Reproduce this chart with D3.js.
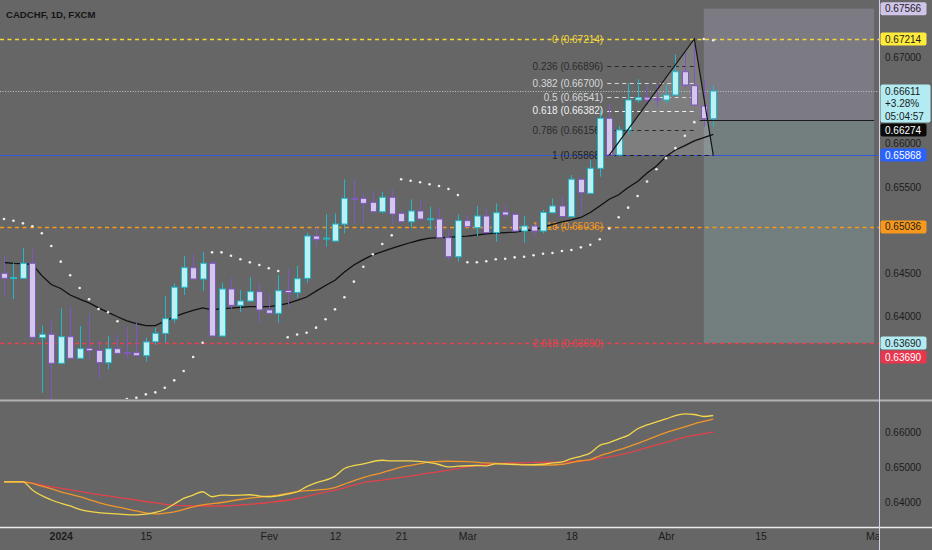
<!DOCTYPE html>
<html>
<head>
<meta charset="utf-8">
<script src="https://cdn.jsdelivr.net/npm/d3@7"></script>
<style>
  body { margin: 0; background: #666; }
  svg { display: block; font-family: "Liberation Sans", Arial, sans-serif; }
</style>
</head>
<body>
<svg id="chart" width="932" height="550"></svg>
<script>
// daily bars, index 0 = first visible bar (late Dec 2023), 75 = Apr 8
const opens = [0.64498,0.64445,0.64440,0.64614,0.63752,0.63791,0.63455,0.63763,0.63513,0.63628,
  0.63605,0.63462,0.63624,0.63579,0.63577,0.63543,0.63705,0.63802,0.63968,0.64336,
  0.64563,0.64432,0.64614,0.63771,0.64316,0.64127,0.64177,0.64285,0.64073,0.64034,
  0.64299,0.64275,0.64440,0.64930,0.64900,0.64872,0.65069,0.65367,0.65367,0.65321,
  0.65212,0.65379,0.65193,0.65096,0.65220,0.65125,0.65127,0.64911,0.64690,0.65108,
  0.65027,0.65162,0.64969,0.65209,0.65182,0.64988,0.65046,0.64988,0.65200,0.65278,
  0.65154,0.65588,0.65425,0.65715,0.66295,0.65869,0.66159,0.66507,0.66533,0.66518,
  0.66507,0.66565,0.66835,0.66673,0.66437,0.66290];
const highs = [0.64699,0.64614,0.64795,0.64788,0.63891,0.63945,0.64092,0.64119,0.63887,0.64034,
  0.63725,0.63771,0.63791,0.63878,0.63925,0.63752,0.63869,0.64238,0.64382,0.64702,
  0.64722,0.64748,0.64641,0.64389,0.64440,0.64304,0.64452,0.64389,0.64266,0.64478,
  0.64548,0.64583,0.64969,0.65031,0.65185,0.65193,0.65588,0.65588,0.65425,0.65455,
  0.65444,0.65464,0.65232,0.65356,0.65356,0.65270,0.65251,0.65000,0.65182,0.65174,
  0.65278,0.65251,0.65309,0.65290,0.65193,0.65162,0.65069,0.65232,0.65367,0.65386,
  0.65638,0.65599,0.65811,0.66391,0.66461,0.66206,0.66700,0.66747,0.66681,0.66681,
  0.66681,0.67037,0.67057,0.67214,0.66747,0.66681];
const lows = [0.64227,0.64200,0.64435,0.63705,0.63114,0.63041,0.63450,0.63501,0.63510,0.63501,
  0.63269,0.63385,0.63565,0.63513,0.63540,0.63473,0.63667,0.63693,0.63925,0.64246,
  0.64428,0.64296,0.63765,0.63765,0.64088,0.64049,0.64172,0.63925,0.64030,0.63925,
  0.64113,0.64212,0.64389,0.64806,0.64806,0.64867,0.64962,0.65069,0.65069,0.65207,
  0.65193,0.65058,0.65090,0.65020,0.65122,0.65000,0.64905,0.64652,0.64633,0.65033,
  0.64930,0.64962,0.64864,0.65136,0.64983,0.64853,0.64915,0.64962,0.65195,0.65150,
  0.65150,0.65174,0.65420,0.65618,0.65865,0.65865,0.66101,0.66476,0.66449,0.66429,
  0.66469,0.66560,0.66654,0.66440,0.66197,0.66197];
const closes = [0.64440,0.64449,0.64614,0.63756,0.63791,0.63455,0.63763,0.63513,0.63624,0.63601,
  0.63462,0.63624,0.63570,0.63576,0.63543,0.63702,0.63802,0.63972,0.64336,0.64563,
  0.64432,0.64614,0.63771,0.64316,0.64127,0.64177,0.64285,0.64073,0.64034,0.64296,
  0.64275,0.64435,0.64930,0.64892,0.64907,0.65069,0.65367,0.65361,0.65309,0.65212,
  0.65379,0.65185,0.65096,0.65220,0.65127,0.65130,0.64911,0.64690,0.65108,0.65038,
  0.65162,0.64969,0.65200,0.65174,0.64988,0.65046,0.64988,0.65203,0.65278,0.65156,
  0.65588,0.65432,0.65715,0.66295,0.65869,0.66159,0.66507,0.66533,0.66507,0.66513,
  0.66565,0.66835,0.66681,0.66449,0.66290,0.66611];

// moving average drawn on the price pane
const priceMA = [0.64623,0.64614,0.64609,0.64602,0.64471,0.64368,0.64322,0.64246,0.64198,0.64155,
  0.64098,0.64045,0.63994,0.63947,0.63916,0.63891,0.63891,0.63942,0.63993,0.64033,
  0.64069,0.64096,0.64075,0.64089,0.64095,0.64104,0.64111,0.64111,0.64111,0.64127,
  0.64150,0.64183,0.64223,0.64291,0.64357,0.64418,0.64513,0.64594,0.64656,0.64712,
  0.64750,0.64788,0.64821,0.64855,0.64884,0.64905,0.64912,0.64915,0.64923,0.64930,
  0.64942,0.64954,0.64963,0.64970,0.64975,0.64989,0.65001,0.65029,0.65065,0.65093,
  0.65116,0.65145,0.65203,0.65278,0.65356,0.65408,0.65492,0.65562,0.65660,0.65741,
  0.65852,0.65927,0.65979,0.66032,0.66072,0.66109];

// parabolic SAR dots
const sar = [0.65127,0.65108,0.65077,0.65043,0.64962,0.64814,0.64633,0.64475,0.64328,0.64197,
  0.64084,0.64046,0.63942,0.63041,0.63056,0.63095,0.63118,0.63172,0.63257,0.63365,
  0.63528,0.63693,0.64741,0.64741,0.64702,0.64660,0.64625,0.64594,0.64556,0.64524,
  0.63756,0.63789,0.63809,0.63868,0.63965,0.64080,0.64220,0.64401,0.64574,0.64718,
  0.64838,0.64938,0.65588,0.65571,0.65553,0.65530,0.65510,0.65475,0.65406,0.64626,
  0.64626,0.64637,0.64660,0.64667,0.64683,0.64690,0.64707,0.64724,0.64733,0.64756,
  0.64768,0.64799,0.64829,0.64892,0.65017,0.65147,0.65259,0.65394,0.65562,0.65704,
  0.65833,0.65949,0.66092,0.66250,0.67214,0.67200];

// lower pane averages, [bar index, value]
const avgFast = [[0,0.64589],[2,0.64589],[3,0.64351],[5,0.64066],[7,0.63894],[8,0.63800],[10,0.63703],
  [12,0.63666],[14,0.63637],[15,0.63660],[16,0.63709],[17,0.63794],[18,0.63951],[19,0.64114],
  [20,0.64209],[21,0.64303],[22,0.64160],[23,0.64209],[24,0.64200],[26,0.64217],[27,0.64180],
  [28,0.64160],[30,0.64237],[31,0.64303],[32,0.64451],[33,0.64560],[35,0.64751],[36,0.64971],
  [38,0.65103],[40,0.65209],[41,0.65189],[43,0.65189],[45,0.65137],[46,0.65086],[47,0.65017],
  [48,0.65037],[50,0.65057],[51,0.65046],[52,0.65103],[54,0.65086],[55,0.65074],[57,0.65094],
  [58,0.65131],[59,0.65160],[60,0.65257],[61,0.65323],[62,0.65417],[63,0.65637],[64,0.65714],
  [65,0.65823],[66,0.65923],[67,0.66114],[68,0.66223],[69,0.66309],[70,0.66394],[71,0.66494],
  [72,0.66543],[73,0.66523],[74,0.66466],[75,0.66494]];
const avgMid = [[0,0.64589],[2,0.64589],[4,0.64466],[6,0.64303],[8,0.64160],[10,0.63994],[12,0.63866],
  [14,0.63751],[15,0.63694],[16,0.63666],[17,0.63686],[18,0.63723],[20,0.63866],[21,0.63923],
  [23,0.63994],[25,0.64080],[27,0.64151],[29,0.64209],[31,0.64309],[33,0.64351],[35,0.64423],
  [36,0.64523],[38,0.64709],[40,0.64851],[42,0.65009],[44,0.65109],[45,0.65160],[47,0.65180],
  [49,0.65171],[51,0.65131],[53,0.65109],[55,0.65080],[57,0.65066],[59,0.65094],[61,0.65194],
  [62,0.65229],[63,0.65337],[64,0.65423],[66,0.65594],[68,0.65794],[70,0.66000],[72,0.66166],
  [73,0.66257],[74,0.66323],[75,0.66389]];
const avgSlow = [[0,0.64589],[2,0.64589],[4,0.64494],[7,0.64360],[10,0.64223],[12,0.64143],[15,0.64023],
  [17,0.63943],[19,0.63903],[21,0.63894],[23,0.63894],[25,0.63923],[28,0.63994],[31,0.64109],
  [33,0.64237],[36,0.64417],[38,0.64566],[40,0.64637],[42,0.64714],[45,0.64843],[47,0.64923],
  [49,0.65017],[51,0.65086],[53,0.65126],[56,0.65146],[59,0.65160],[61,0.65180],[62,0.65217],
  [64,0.65303],[66,0.65423],[68,0.65571],[70,0.65723],[72,0.65874],[74,0.65971],[75,0.66017]];

// fibonacci drawing: from bar 64 (low) to bar 73 (high), back to bar 75
const fibLevels = [0, 0.236, 0.382, 0.5, 0.618, 0.786, 1, 1.618, 2.618];
const fibPrices = [0.67214, 0.66896, 0.66700, 0.66541, 0.66382, 0.66156, 0.65868, 0.65036, 0.63690];
const fibPoints = [[64, 0.65868], [73, 0.67214], [75, 0.65868]];

// long/short position tool
const posStart = 74, posEnd = 92;
const posEntry = 0.66274, posTop = 0.67566, posBottom = 0.63690;

const lastPrice = 0.66611, lastChange = "+3.28%", countdown = "05:04:57";

const xTicks = [6, 15, 28, 35, 42, 49, 60, 70, 80, 92];
const xTickLabels = ["2024", "15", "Fev", "12", "21", "Mar", "18", "Abr", "15", "Mai"];
// axis ticks left visible (the others sit under price labels)
const priceTicks = [0.640, 0.645, 0.655, 0.660, 0.670];
const lowerTicks = [0.64, 0.65, 0.66];

const upFill = "#bdf0f5", upLine = "#22b8c9", dnFill = "#d3c7ea", dnLine = "#7e57c2";
const fibColors = ["#f2d83a", "#2b2b2b", "#d8d8d8", "#d8d8d8", "#f0f0f0", "#2b2b2b", "#1e1e1e", "#f5981c", "#ee3d4c"];

const axisX = 879;
const svg = d3.select("#chart");

const x = d3.scaleLinear().domain([0, 92]).range([4, 874]);
const y = d3.scaleLinear().domain([0.63690, 0.67214]).range([343, 39]);
const y2 = d3.scaleLinear().domain([0.64, 0.66]).range([502.3, 432.7]);

svg.append("rect").attr("width", 932).attr("height", 550).attr("fill", "#666");

const defs = svg.append("defs");
defs.append("clipPath").attr("id", "mainClip")
  .append("rect").attr("x", 0).attr("y", 0).attr("width", axisX).attr("height", 399);
defs.append("clipPath").attr("id", "lowClip")
  .append("rect").attr("x", 0).attr("y", 402).attr("width", axisX).attr("height", 124);
defs.append("clipPath").attr("id", "xClip")
  .append("rect").attr("x", 0).attr("y", 528).attr("width", axisX).attr("height", 22);

const main = svg.append("g").attr("clip-path", "url(#mainClip)");

// position tool boxes
main.append("rect")
  .attr("x", x(posStart)).attr("width", x(posEnd) - x(posStart))
  .attr("y", y(posTop)).attr("height", y(posEntry) - y(posTop))
  .attr("fill", "#7c7a82");
main.append("rect")
  .attr("x", x(posStart)).attr("width", x(posEnd) - x(posStart))
  .attr("y", y(posEntry)).attr("height", y(posBottom) - y(posEntry))
  .attr("fill", "#737e7e");

// triangle fill
main.append("path")
  .attr("d", "M" + fibPoints.map((p) => [x(p[0]), y(p[1])].join(",")).join("L") + "Z")
  .attr("fill", "rgba(255,255,255,0.16)");

// full width lines
const hline = (p, color, dash, w = 1.3) =>
  main.append("line")
    .attr("x1", 0).attr("x2", axisX)
    .attr("y1", Math.round(y(p)) + 0.5).attr("y2", Math.round(y(p)) + 0.5)
    .attr("stroke", color).attr("stroke-width", w)
    .attr("stroke-dasharray", dash);

hline(lastPrice, "#b9cbd0", "1,1.6", 1);
hline(fibPrices[0], fibColors[0], "4,3.5");
hline(fibPrices[6], "#3557d8", null, 1.2);
hline(fibPrices[7], fibColors[7], "4,3.5");
hline(fibPrices[8], fibColors[8], "4,3.5");

// fib level segments and labels
const fibX1 = x(fibPoints[0][0]) - 2, fibX2 = x(fibPoints[1][0]) + 1;
fibLevels.forEach((lv, k) => {
  if (k === 0 || k >= 7) return;
  const yy = Math.round(y(fibPrices[k])) + 0.5;
  main.append("line")
    .attr("x1", fibX1).attr("x2", k === 6 ? x(fibPoints[2][0]) : fibX2)
    .attr("y1", yy).attr("y2", yy)
    .attr("stroke", fibColors[k]).attr("stroke-width", 1.2).attr("stroke-dasharray", "4,3.5");
});
main.selectAll("text.fib")
  .data(fibLevels)
  .join("text")
  .attr("class", "fib")
  .attr("x", fibX1 - 4)
  .attr("y", (d, k) => y(fibPrices[k]) + 3.5)
  .attr("text-anchor", "end")
  .attr("font-size", 10)
  .attr("fill", (d, k) => fibColors[k])
  .text((d, k) => `${d} (${fibPrices[k].toFixed(5)})`);

// black moving average
main.append("path")
  .datum(priceMA)
  .attr("fill", "none")
  .attr("stroke", "#111")
  .attr("stroke-width", 1.3)
  .attr("d", d3.line().x((d, i) => x(i)).y((d) => y(d)));

// candles
const bars = opens.map((o, i) => ({ i, o, h: highs[i], l: lows[i], c: closes[i], up: closes[i] >= o }));
const candle = main.append("g").selectAll("g").data(bars).join("g");
candle.append("line")
  .attr("x1", (d) => Math.round(x(d.i)) + 0.5).attr("x2", (d) => Math.round(x(d.i)) + 0.5)
  .attr("y1", (d) => y(d.h)).attr("y2", (d) => y(d.l))
  .attr("stroke", (d) => (d.up ? upLine : dnLine));
candle.append("rect")
  .attr("x", (d) => Math.round(x(d.i)) - 2.5)
  .attr("width", 6)
  .attr("y", (d) => y(Math.max(d.o, d.c)))
  .attr("height", (d) => Math.max(1, Math.abs(y(d.o) - y(d.c))))
  .attr("fill", (d) => (d.up ? upFill : dnFill))
  .attr("stroke", (d) => (d.up ? upLine : dnLine));

// SAR dots
main.append("g").selectAll("circle").data(sar).join("circle")
  .attr("cx", (d, i) => x(i)).attr("cy", (d) => y(d))
  .attr("r", 1.3).attr("fill", "#eeeeee");

// triangle outline (no base)
main.append("path")
  .attr("d", d3.line().x((p) => x(p[0])).y((p) => y(p[1]))(fibPoints))
  .attr("fill", "none").attr("stroke", "#151515").attr("stroke-width", 1.2);

// entry line of position
main.append("line")
  .attr("x1", x(posStart) - 4).attr("x2", x(posEnd))
  .attr("y1", Math.round(y(posEntry)) + 0.5).attr("y2", Math.round(y(posEntry)) + 0.5)
  .attr("stroke", "#1a1a1a").attr("stroke-width", 1.2);

// title
svg.append("text").attr("x", 6).attr("y", 17.5)
  .attr("font-size", 9.6).attr("font-weight", "bold").attr("fill", "#151515")
  .text("CADCHF, 1D, FXCM");

// lower pane
const low = svg.append("g").attr("clip-path", "url(#lowClip)");
const lowLine = d3.line().x((p) => x(p[0])).y((p) => y2(p[1])).curve(d3.curveMonotoneX);
[[avgSlow, "#e2434a"], [avgMid, "#f0962a"], [avgFast, "#f2d64b"]].forEach(([data, color]) => {
  low.append("path").datum(data)
    .attr("fill", "none").attr("stroke", color).attr("stroke-width", 1.3)
    .attr("d", lowLine);
});

// separators
svg.append("line").attr("x1", 0).attr("x2", 932).attr("y1", 400.5).attr("y2", 400.5)
  .attr("stroke", "#b3b3b3").attr("stroke-width", 2);
svg.append("line").attr("x1", 0).attr("x2", 932).attr("y1", 527.5).attr("y2", 527.5)
  .attr("stroke", "#ececec").attr("stroke-width", 1.5);
svg.append("line").attr("x1", axisX + 0.5).attr("x2", axisX + 0.5).attr("y1", 0).attr("y2", 550)
  .attr("stroke", "#d6d0e4").attr("stroke-width", 1);

// right axes
const styleAxis = (g) => {
  g.select(".domain").remove();
  g.selectAll("text").attr("font-size", 10).attr("fill", "#1c1c1c")
    .attr("font-family", "Liberation Sans, Arial, sans-serif");
};
svg.append("g").attr("transform", `translate(${axisX},0)`)
  .call(d3.axisRight(y).tickValues(priceTicks).tickSize(0).tickPadding(6).tickFormat(d3.format(".5f")))
  .call(styleAxis);
svg.append("g").attr("transform", `translate(${axisX},0)`)
  .call(d3.axisRight(y2).tickValues(lowerTicks).tickSize(0).tickPadding(6).tickFormat(d3.format(".5f")))
  .call(styleAxis);

// bottom axis
svg.append("g").attr("clip-path", "url(#xClip)")
  .append("g").attr("transform", "translate(0,533)")
  .call(d3.axisBottom(x).tickValues(xTicks).tickSize(0).tickPadding(0)
    .tickFormat((d, k) => xTickLabels[k]))
  .call((g) => {
    g.select(".domain").remove();
    g.selectAll("text").attr("font-size", 10.5).attr("fill", "#1c1c1c")
      .attr("font-family", "Liberation Sans, Arial, sans-serif")
      .attr("font-weight", (d, k) => (k === 0 ? "bold" : null));
  });

// price labels on the right axis, stacked so they do not overlap
const labels = [
  { p: posTop, fill: "#d1c4e9", ink: "#1c1c1c", lines: [posTop.toFixed(5)] },
  { p: fibPrices[0], fill: "#ffeb3b", ink: "#1c1c1c", lines: [fibPrices[0].toFixed(5)] },
  { p: lastPrice, fill: "#b2ebf2", ink: "#1c1c1c", lines: [lastPrice.toFixed(5), lastChange, countdown], w: 50 },
  { p: posEntry, fill: "#0a0a0a", ink: "#ffffff", lines: [posEntry.toFixed(5)] },
  { p: fibPrices[6], fill: "#2962ff", ink: "#ffffff", lines: [fibPrices[6].toFixed(5)] },
  { p: fibPrices[7], fill: "#f7981d", ink: "#1c1c1c", lines: [fibPrices[7].toFixed(5)] },
  { p: posBottom, fill: "#b2ebf2", ink: "#1c1c1c", lines: [posBottom.toFixed(5)] },
  { p: fibPrices[8], fill: "#e8364f", ink: "#ffffff", lines: [fibPrices[8].toFixed(5)] },
];
let prevBottom = -Infinity;
labels.forEach((d) => {
  const h = 13 + (d.lines.length - 1) * 12.5;
  let top = y(d.p) - 6.5;
  if (top < prevBottom + 1) top = prevBottom + 1;
  prevBottom = top + h;
  const g = svg.append("g");
  g.append("rect").attr("x", axisX + 1.5).attr("y", top).attr("width", d.w || 46).attr("height", h)
    .attr("rx", 2).attr("fill", d.fill);
  d.lines.forEach((t, k) => {
    g.append("text").attr("x", axisX + 6).attr("y", top + 10 + k * 12.5)
      .attr("font-size", 10).attr("fill", d.ink).text(t);
  });
});
</script>
</body>
</html>
